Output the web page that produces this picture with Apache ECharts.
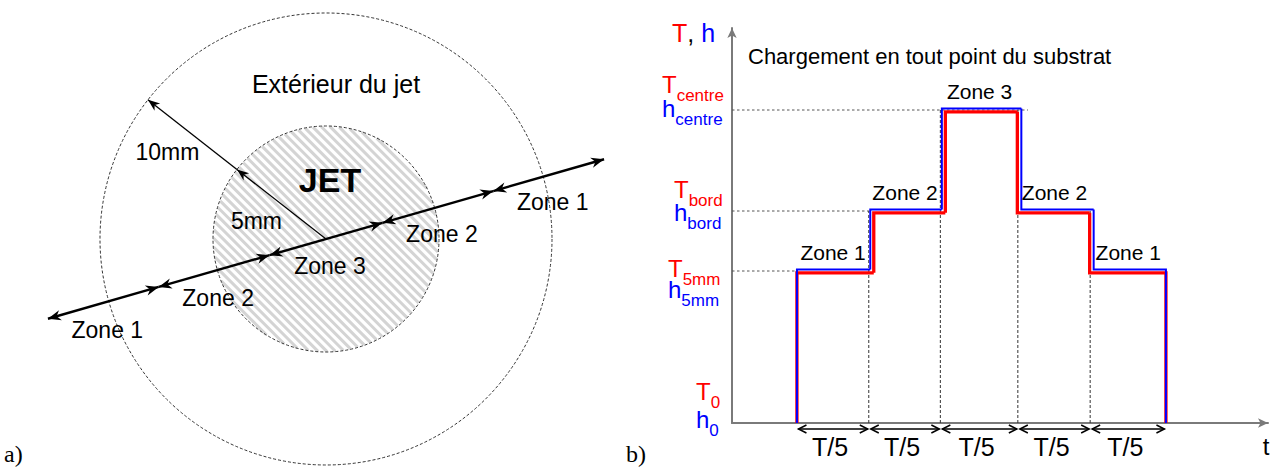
<!DOCTYPE html>
<html><head><meta charset="utf-8">
<script src="https://cdn.jsdelivr.net/npm/echarts@6/dist/echarts.min.js"></script>
<style>html,body{margin:0;padding:0;background:#fff}#c{width:1273px;height:470px}</style>
</head><body><div id="c"></div>
<script>
// ---------- Panel a) data (mm) ----------
const circleRadii = [5, 10];                       // jet radius, outer radius
const circleTexts = ['JET', 'Extérieur du jet'];
const zoneLineAngle = 16;                          // degrees
const zoneBoundsA = [-12.8, -7.7, -2.6, 2.6, 7.7, 12.8];
const zoneNamesA = ['Zone 1', 'Zone 2', 'Zone 3', 'Zone 2', 'Zone 1'];
const radiusAngle = 142;                           // degrees
const radiusMarks = [0, 5, 10];
const radiusTexts = ['5mm', '10mm'];

// ---------- Panel b) data ----------
const zoneNamesB = ['Zone 1', 'Zone 2', 'Zone 3', 'Zone 2', 'Zone 1'];
const zoneBoundsB = [0.88, 1.86, 2.83, 3.88, 4.86, 5.88];
const T0 = 0, h0 = 0;
const Tlevels = [1.52, 2.12, 3.13, 2.12, 1.52];
const hLevels = [1.52, 2.12, 3.13, 2.12, 1.52];
const levelTicks = [0, 1.52, 2.12, 3.13];
const levelSubs = ['0', '5mm', 'bord', 'centre'];
const guideEnds = [0.88, 1.86, 4.01];
const periodLabels = ['T/5', 'T/5', 'T/5', 'T/5', 'T/5'];

// ---------- styles ----------
const FONT = '"Liberation Sans", Arial, sans-serif';
const RED = '#ff0000', BLUE = '#0000ff';
const circleTextStyle = [{dx: 4, dy: -59, size: 34, weight: 'bold'}, {dx: 10, dy: -155, size: 25, weight: 'normal'}];
const levelLabelPos = [{dx: -36, t: -23, h: 5}, {dx: -64, t: 6, h: 27}, {dx: -58, t: -13, h: 10}, {dx: -70, t: -17, h: 7}];

const DEG = Math.PI / 180;
function polar(d, ang) { return [d * Math.cos(ang * DEG), d * Math.sin(ang * DEG)]; }
function headPts(tip, from, len, hw, notch) {
  const dx = tip[0] - from[0], dy = tip[1] - from[1], L = Math.hypot(dx, dy);
  const ux = dx / L, uy = dy / L, nx = -uy, ny = ux;
  const bx = tip[0] - ux * len, by = tip[1] - uy * len;
  return [tip, [bx + nx * hw, by + ny * hw], [tip[0] - ux * (len - notch), tip[1] - uy * (len - notch)], [bx - nx * hw, by - ny * hw]];
}
const mctx = document.createElement('canvas').getContext('2d');
function textW(t, size) { mctx.font = size + 'px "Liberation Sans"'; return mctx.measureText(t).width; }
function txt(x, y, text, size, color, align, weight) {
  return {type: 'text', x: x, y: y, style: {text: text, fontSize: size, fontFamily: FONT, fontWeight: weight || 'normal', fill: color, align: align || 'center', verticalAlign: 'middle'}};
}

const series = [];
const aBase = {type: 'custom', xAxisIndex: 0, yAxisIndex: 0, silent: true, animation: false};
const bBase = {type: 'custom', xAxisIndex: 1, yAxisIndex: 1, silent: true, animation: false};

// hatch inside the jet
series.push(Object.assign({}, aBase, {
  name: 'hatch', z: 1, data: [[circleRadii[0], 0]],
  renderItem(params, api) {
    const c = api.coord([0, 0]); const r = api.size([api.value(0), 0])[0];
    const kids = []; const step = 6.2, s = Math.SQRT1_2;
    for (let p = -r + step / 2; p < r; p += step) {
      const h = Math.sqrt(Math.max(0, r * r - p * p)) - 0.5;
      const px = c[0] + p * s, py = c[1] - p * s;
      kids.push({type: 'line', shape: {x1: px - h * s, y1: py - h * s, x2: px + h * s, y2: py + h * s},
        style: {stroke: '#d4d4d4', lineWidth: 3, fill: 'none'}});
    }
    return {type: 'group', children: kids};
  }
}));
// circles
series.push(Object.assign({}, aBase, {
  name: 'circles', z: 2, data: circleRadii.map((r, i) => [r, i]),
  renderItem(params, api) {
    const i = params.dataIndex; const c = api.coord([0, 0]); const r = api.size([api.value(0), 0])[0];
    const st = circleTextStyle[i];
    return {type: 'group', children: [
      {type: 'circle', shape: {cx: c[0], cy: c[1], r: r}, style: {fill: 'none', stroke: '#333', lineWidth: 1, lineDash: [3, 2]}},
      txt(c[0] + st.dx, c[1] + st.dy, circleTexts[i], st.size, '#000', 'center', st.weight)
    ]};
  }
}));
// zone segments (double arrows)
series.push(Object.assign({}, aBase, {
  name: 'zonesA', z: 3, data: zoneNamesA.map((n, i) => [zoneBoundsA[i], zoneBoundsA[i + 1]]),
  renderItem(params, api) {
    const p0 = api.coord(polar(api.value(0), zoneLineAngle));
    const p1 = api.coord(polar(api.value(1), zoneLineAngle));
    const mid = [(p0[0] + p1[0]) / 2, (p0[1] + p1[1]) / 2];
    return {type: 'group', children: [
      {type: 'line', shape: {x1: p0[0], y1: p0[1], x2: p1[0], y2: p1[1]}, style: {stroke: '#000', lineWidth: 2.4, fill: 'none'}},
      {type: 'polygon', shape: {points: headPts(p0, p1, 13, 5.2, 4)}, style: {fill: '#000'}},
      {type: 'polygon', shape: {points: headPts(p1, p0, 13, 5.2, 4)}, style: {fill: '#000'}},
      txt(mid[0] + 4, mid[1] + 27, zoneNamesA[params.dataIndex], 23, '#000')
    ]};
  }
}));
// radius arrow
series.push(Object.assign({}, aBase, {
  name: 'radius', z: 3, data: radiusTexts.map((t, i) => [radiusMarks[i], radiusMarks[i + 1]]),
  renderItem(params, api) {
    const p0 = api.coord(polar(api.value(0), radiusAngle));
    const p1 = api.coord(polar(api.value(1), radiusAngle));
    const mid = [(p0[0] + p1[0]) / 2, (p0[1] + p1[1]) / 2];
    return {type: 'group', children: [
      {type: 'line', shape: {x1: p0[0], y1: p0[1], x2: p1[0], y2: p1[1]}, style: {stroke: '#000', lineWidth: 1.3, fill: 'none'}},
      {type: 'polygon', shape: {points: headPts(p1, p0, 12, 4.6, 3.5)}, style: {fill: '#000'}},
      txt(mid[0] - 25, mid[1] + 17, radiusTexts[params.dataIndex], 23, '#000')
    ]};
  }
}));

// ---------- panel b ----------
// horizontal dotted guides
series.push(Object.assign({}, bBase, {
  name: 'guides', z: 1, data: levelTicks.slice(1).map((l, i) => [0, guideEnds[i], l]),
  renderItem(params, api) {
    const a = api.coord([api.value(0), api.value(2)]), b = api.coord([api.value(1), api.value(2)]);
    return {type: 'line', shape: {x1: a[0], y1: a[1], x2: b[0], y2: b[1]}, style: {stroke: '#555', lineWidth: 1, lineDash: [2.5, 2.5], fill: 'none'}};
  }
}));
// vertical dashed boundaries
series.push(Object.assign({}, bBase, {
  name: 'bounds', z: 1, data: zoneBoundsB.slice(1, 5).map((b, i) => [b, Math.max(Tlevels[i], Tlevels[i + 1])]),
  renderItem(params, api) {
    const a = api.coord([api.value(0), 0]), b = api.coord([api.value(0), api.value(1)]);
    return {type: 'line', shape: {x1: a[0] - 0.5, y1: a[1], x2: b[0] - 0.5, y2: b[1]}, style: {stroke: '#333', lineWidth: 1, lineDash: [3, 2], fill: 'none'}};
  }
}));
function stepSeries(name, levels, base, color, width, off, z) {
  const data = levels.map((l, i) => [zoneBoundsB[i], zoneBoundsB[i + 1], l, i > 0 ? levels[i - 1] : base, i < levels.length - 1 ? levels[i + 1] : base]);
  return Object.assign({}, bBase, {
    name: name, z: z, data: data,
    renderItem(params, api) {
      const x0 = api.value(0), x1 = api.value(1), l = api.value(2), lp = api.value(3), ln = api.value(4);
      const edgeDx = (from, to) => (from === base || to === base) ? 0 : (to > from ? off.rise : off.fall);
      const yOf = v => api.coord([0, v])[1] + (v === base ? 0 : off.dy);
      const xs = api.coord([x0, 0])[0] + edgeDx(lp, l);
      const xe = api.coord([x1, 0])[0] + edgeDx(l, ln);
      const pts = [[xs, yOf(lp)], [xs, yOf(l)], [xe, yOf(l)]];
      if (ln === base) pts.push([xe, yOf(base)]);
      return {type: 'polyline', shape: {points: pts}, style: {stroke: color, lineWidth: width, fill: 'none', lineJoin: 'miter'}};
    }
  });
}
series.push(stepSeries('T', Tlevels, T0, RED, 3.3, {dy: 1.8, rise: 4.5, fall: -1}, 3));
series.push(stepSeries('h', hLevels, h0, BLUE, 2, {dy: -1.5, rise: 1, fall: 3}, 4));
// zone labels
series.push(Object.assign({}, bBase, {
  name: 'zonesB', z: 5, data: zoneNamesB.map((n, i) => [(zoneBoundsB[i] + zoneBoundsB[i + 1]) / 2, Math.max(Tlevels[i], hLevels[i])]),
  renderItem(params, api) {
    const p = api.coord([api.value(0), api.value(1)]);
    return txt(p[0], p[1] - 19, zoneNamesB[params.dataIndex], 21, '#000');
  }
}));
// period arrows T/5
series.push(Object.assign({}, bBase, {
  name: 'periods', z: 5, data: periodLabels.map((t, i) => [zoneBoundsB[i], zoneBoundsB[i + 1]]),
  renderItem(params, api) {
    const a = api.coord([api.value(0), 0]), b = api.coord([api.value(1), 0]);
    const y = a[1] + 6, xs = a[0] + 1.5, xe = b[0] - 1.5;
    const st = {stroke: '#000', lineWidth: 1.5, fill: 'none'};
    return {type: 'group', children: [
      {type: 'line', shape: {x1: xs, y1: y, x2: xe, y2: y}, style: st},
      {type: 'polyline', shape: {points: [[xs + 8, y - 4], [xs, y], [xs + 8, y + 4]]}, style: st},
      {type: 'polyline', shape: {points: [[xe - 8, y - 4], [xe, y], [xe - 8, y + 4]]}, style: st},
      txt((a[0] + b[0]) / 2 - 3, a[1] + 24, periodLabels[params.dataIndex], 25, '#000')
    ]};
  }
}));
// level labels (T_x / h_x)
series.push(Object.assign({}, bBase, {
  name: 'levels', z: 5, data: levelTicks.map(v => [0, v]),
  renderItem(params, api) {
    const i = params.dataIndex, p = api.coord([0, api.value(1)]), pos = levelLabelPos[i];
    const x = p[0] + pos.dx, sub = levelSubs[i];
    const M = 24, S = 17;
    const yT = p[1] + pos.t, yH = p[1] + pos.h;
    return {type: 'group', children: [
      txt(x, yT - 0.35 * M, 'T', M, RED, 'left'),
      txt(x + textW('T', M), yT + 8 - 0.35 * S, sub, S, RED, 'left'),
      txt(x, yH - 0.35 * M, 'h', M, BLUE, 'left'),
      txt(x + textW('h', M), yH + 8 - 0.35 * S, sub, S, BLUE, 'left')
    ]};
  }
}));

const axisB = {lineStyle: {color: '#7a7a7a', width: 2}, symbol: ['none', 'arrow'], symbolSize: [7, 10]};
const option = {
  animation: false,
  backgroundColor: '#ffffff',
  title: [
    {text: 'Chargement en tout point du substrat', left: 748, top: 45, padding: 0,
      textStyle: {fontFamily: FONT, fontSize: 22, fontWeight: 'normal', color: '#000'}},
    {text: '{r|T}{k|, }{b|h}', left: 672, top: 20, padding: 0,
      textStyle: {fontWeight: 'normal', rich: {
        r: {color: RED, fontSize: 25, fontFamily: FONT, fontWeight: 'normal'},
        k: {color: '#000', fontSize: 25, fontFamily: FONT, fontWeight: 'normal'},
        b: {color: BLUE, fontSize: 25, fontFamily: FONT, fontWeight: 'normal'}}}},
    {text: 'a)', left: 4, top: 442, padding: 0, textStyle: {fontFamily: '"Liberation Serif", serif', fontSize: 24, fontWeight: 'normal', color: '#000'}},
    {text: 'b)', left: 626, top: 442, padding: 0, textStyle: {fontFamily: '"Liberation Serif", serif', fontSize: 24, fontWeight: 'normal', color: '#000'}}
  ],
  grid: [
    {left: 0, top: 0, width: 640, height: 470, outerBoundsMode: 'none'},
    {left: 732, top: 28, right: 5, bottom: 47, outerBoundsMode: 'none'}
  ],
  xAxis: [
    {gridIndex: 0, type: 'value', min: -14.425, max: 13.894, show: false},
    {gridIndex: 1, type: 'value', min: 0, max: 7.263, axisLine: axisB, axisTick: {show: false}, axisLabel: {show: false}, splitLine: {show: false},
      name: 't', nameLocation: 'end', nameGap: -2,
      nameTextStyle: {fontFamily: FONT, fontSize: 24, color: '#000', align: 'center', verticalAlign: 'top', padding: [11, 0, 0, 0]}}
  ],
  yAxis: [
    {gridIndex: 0, type: 'value', min: -10.221, max: 10.575, show: false},
    {gridIndex: 1, type: 'value', min: 0, max: 3.95, axisLine: axisB, axisTick: {show: false}, axisLabel: {show: false}, splitLine: {show: false}}
  ],
  series: series
};
const chart = echarts.init(document.getElementById('c'), null, {renderer: 'svg'});
chart.setOption(option);
</script>
</body></html>
